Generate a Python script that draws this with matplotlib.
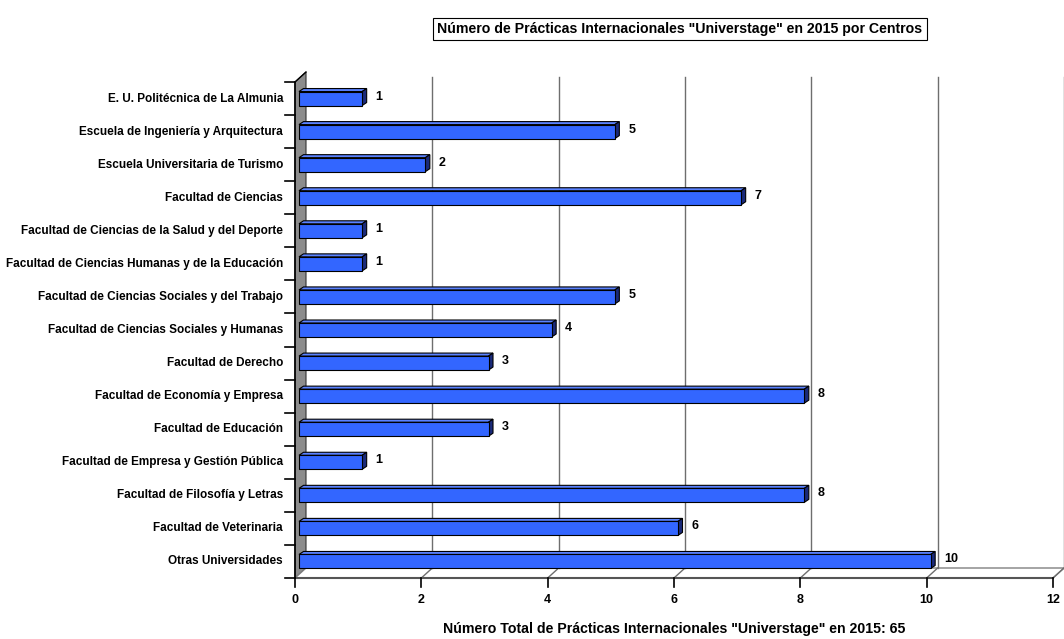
import matplotlib
matplotlib.use('Agg')
import matplotlib.pyplot as plt
from matplotlib.patches import Polygon

# Données
centros = [
    'E. U. Politécnica de La Almunia',
    'Escuela de Ingeniería y Arquitectura',
    'Escuela Universitaria de Turismo',
    'Facultad de Ciencias',
    'Facultad de Ciencias de la Salud y del Deporte',
    'Facultad de Ciencias Humanas y de la Educación',
    'Facultad de Ciencias Sociales y del Trabajo',
    'Facultad de Ciencias Sociales y Humanas',
    'Facultad de Derecho',
    'Facultad de Economía y Empresa',
    'Facultad de Educación',
    'Facultad de Empresa y Gestión Pública',
    'Facultad de Filosofía y Letras',
    'Facultad de Veterinaria',
    'Otras Universidades',
]
practicas = [1, 5, 2, 7, 1, 1, 5, 4, 3, 8, 3, 1, 8, 6, 10]
x_ticks = [0, 2, 4, 6, 8, 10, 12]

titulo = 'Número de Prácticas Internacionales "Universtage" en 2015 por Centros'
eje_x = 'Número Total de Prácticas Internacionales "Universtage" en 2015: 65'

plt.rcParams['font.family'] = ['Liberation Sans', 'DejaVu Sans']
plt.rcParams['font.weight'] = 'bold'

W, H = 1064, 639
fig = plt.figure(figsize=(W / 100, H / 100), dpi=100)
# plan frontal du graphique
x0, x1, ytop, ybot = 295, 1053, 82, 578
ax = fig.add_axes([x0 / W, (H - ybot) / H, (x1 - x0) / W, (ybot - ytop) / H])
n = len(centros)
ax.set_xlim(0, 12)
ax.set_ylim(n - 0.5, -0.5)
ax.axis('off')

ux = (x1 - x0) / 12.0
uy = (ybot - ytop) / n
DX = 11 / ux   # profondeur du mur
DY = 10 / uy
ymin, ymax = -0.5, n - 0.5

# mur latéral gris
ax.add_patch(Polygon([(0, ymin), (DX, ymin - DY), (DX, ymax - DY), (0, ymax)],
                     closed=True, facecolor='#8c8c8c', edgecolor='#333333', lw=0.8,
                     clip_on=False, zorder=1))
# plancher
ax.add_patch(Polygon([(0, ymax), (12, ymax), (12 + DX, ymax - DY), (DX, ymax - DY)],
                     closed=True, facecolor='white', edgecolor='#808080', lw=1.0,
                     clip_on=False, zorder=1))

# grille verticale du fond
for v in x_ticks[1:]:
    ax.plot([v + DX, v + DX], [ymin - DY + 0.15, ymax - DY], color='#6e6e6e', lw=1.0,
            clip_on=False, zorder=1)
    ax.plot([v + DX, v], [ymax - DY, ymax], color='#6e6e6e', lw=1.0, clip_on=False, zorder=2)

# axe x frontal + graduations
ax.plot([0, 12], [ymax, ymax], color='#555555', lw=1.5, clip_on=False, zorder=2)
tick_len = 9 / uy
for v in x_ticks:
    ax.plot([v, v], [ymax, ymax + tick_len], color='black', lw=1.2, clip_on=False, zorder=2)
    ax.text(v, ymax + 22 / uy, str(v), ha='center', va='center', fontsize=9,
            fontweight='bold', clip_on=False)

# axe des catégories
ax.plot([0, 0], [ymin, ymax], color='black', lw=1.2, clip_on=False, zorder=3)
ax.plot([0, DX], [ymin, ymin - DY], color='black', lw=1.0, clip_on=False, zorder=3)
for k in range(n + 1):
    yk = -0.5 + k
    ax.plot([-10 / ux, 0], [yk, yk], color='black', lw=1.2, clip_on=False, zorder=3)
for i, c in enumerate(centros):
    ax.text(-12 / ux, i, c, ha='right', va='center', fontsize=8.5, fontweight='bold',
            clip_on=False)

# barres 3D
bx = 4 / ux
bh = 14 / uy
ddx = 4.5 / ux
ddy = 3 / uy
for i, v in enumerate(practicas):
    xa, xb = bx, v + bx
    ya, yb = i - bh / 2, i + bh / 2
    # face du dessus
    ax.add_patch(Polygon([(xa, ya), (xb, ya), (xb + ddx, ya - ddy), (xa + ddx, ya - ddy)],
                         closed=True, facecolor='#5a82ff', edgecolor='black', lw=0.8,
                         zorder=5, clip_on=False))
    # face latérale
    ax.add_patch(Polygon([(xb, ya), (xb + ddx, ya - ddy), (xb + ddx, yb - ddy), (xb, yb)],
                         closed=True, facecolor='#1a2a7a', edgecolor='black', lw=0.8,
                         zorder=5, clip_on=False))
    # face avant
    ax.add_patch(Polygon([(xa, ya), (xb, ya), (xb, yb), (xa, yb)],
                         closed=True, facecolor='#3366ff', edgecolor='black', lw=0.8,
                         zorder=6, clip_on=False))
    ax.text(xb + ddx + 9 / ux, i - 2 / uy, str(v), ha='left', va='center', fontsize=9,
            fontweight='bold', clip_on=False)

# titre encadré
fig.text(680 / W, 1 - 29 / H, titulo, ha='center', va='center', fontsize=10.2,
         fontweight='bold',
         bbox=dict(boxstyle='square,pad=0.3', facecolor='white', edgecolor='black', lw=0.8))
# titre de l'axe x
fig.text(674 / W, 1 - 629 / H, eje_x, ha='center', va='center', fontsize=10.2,
         fontweight='bold')

fig.savefig('out.png', dpi=100)
